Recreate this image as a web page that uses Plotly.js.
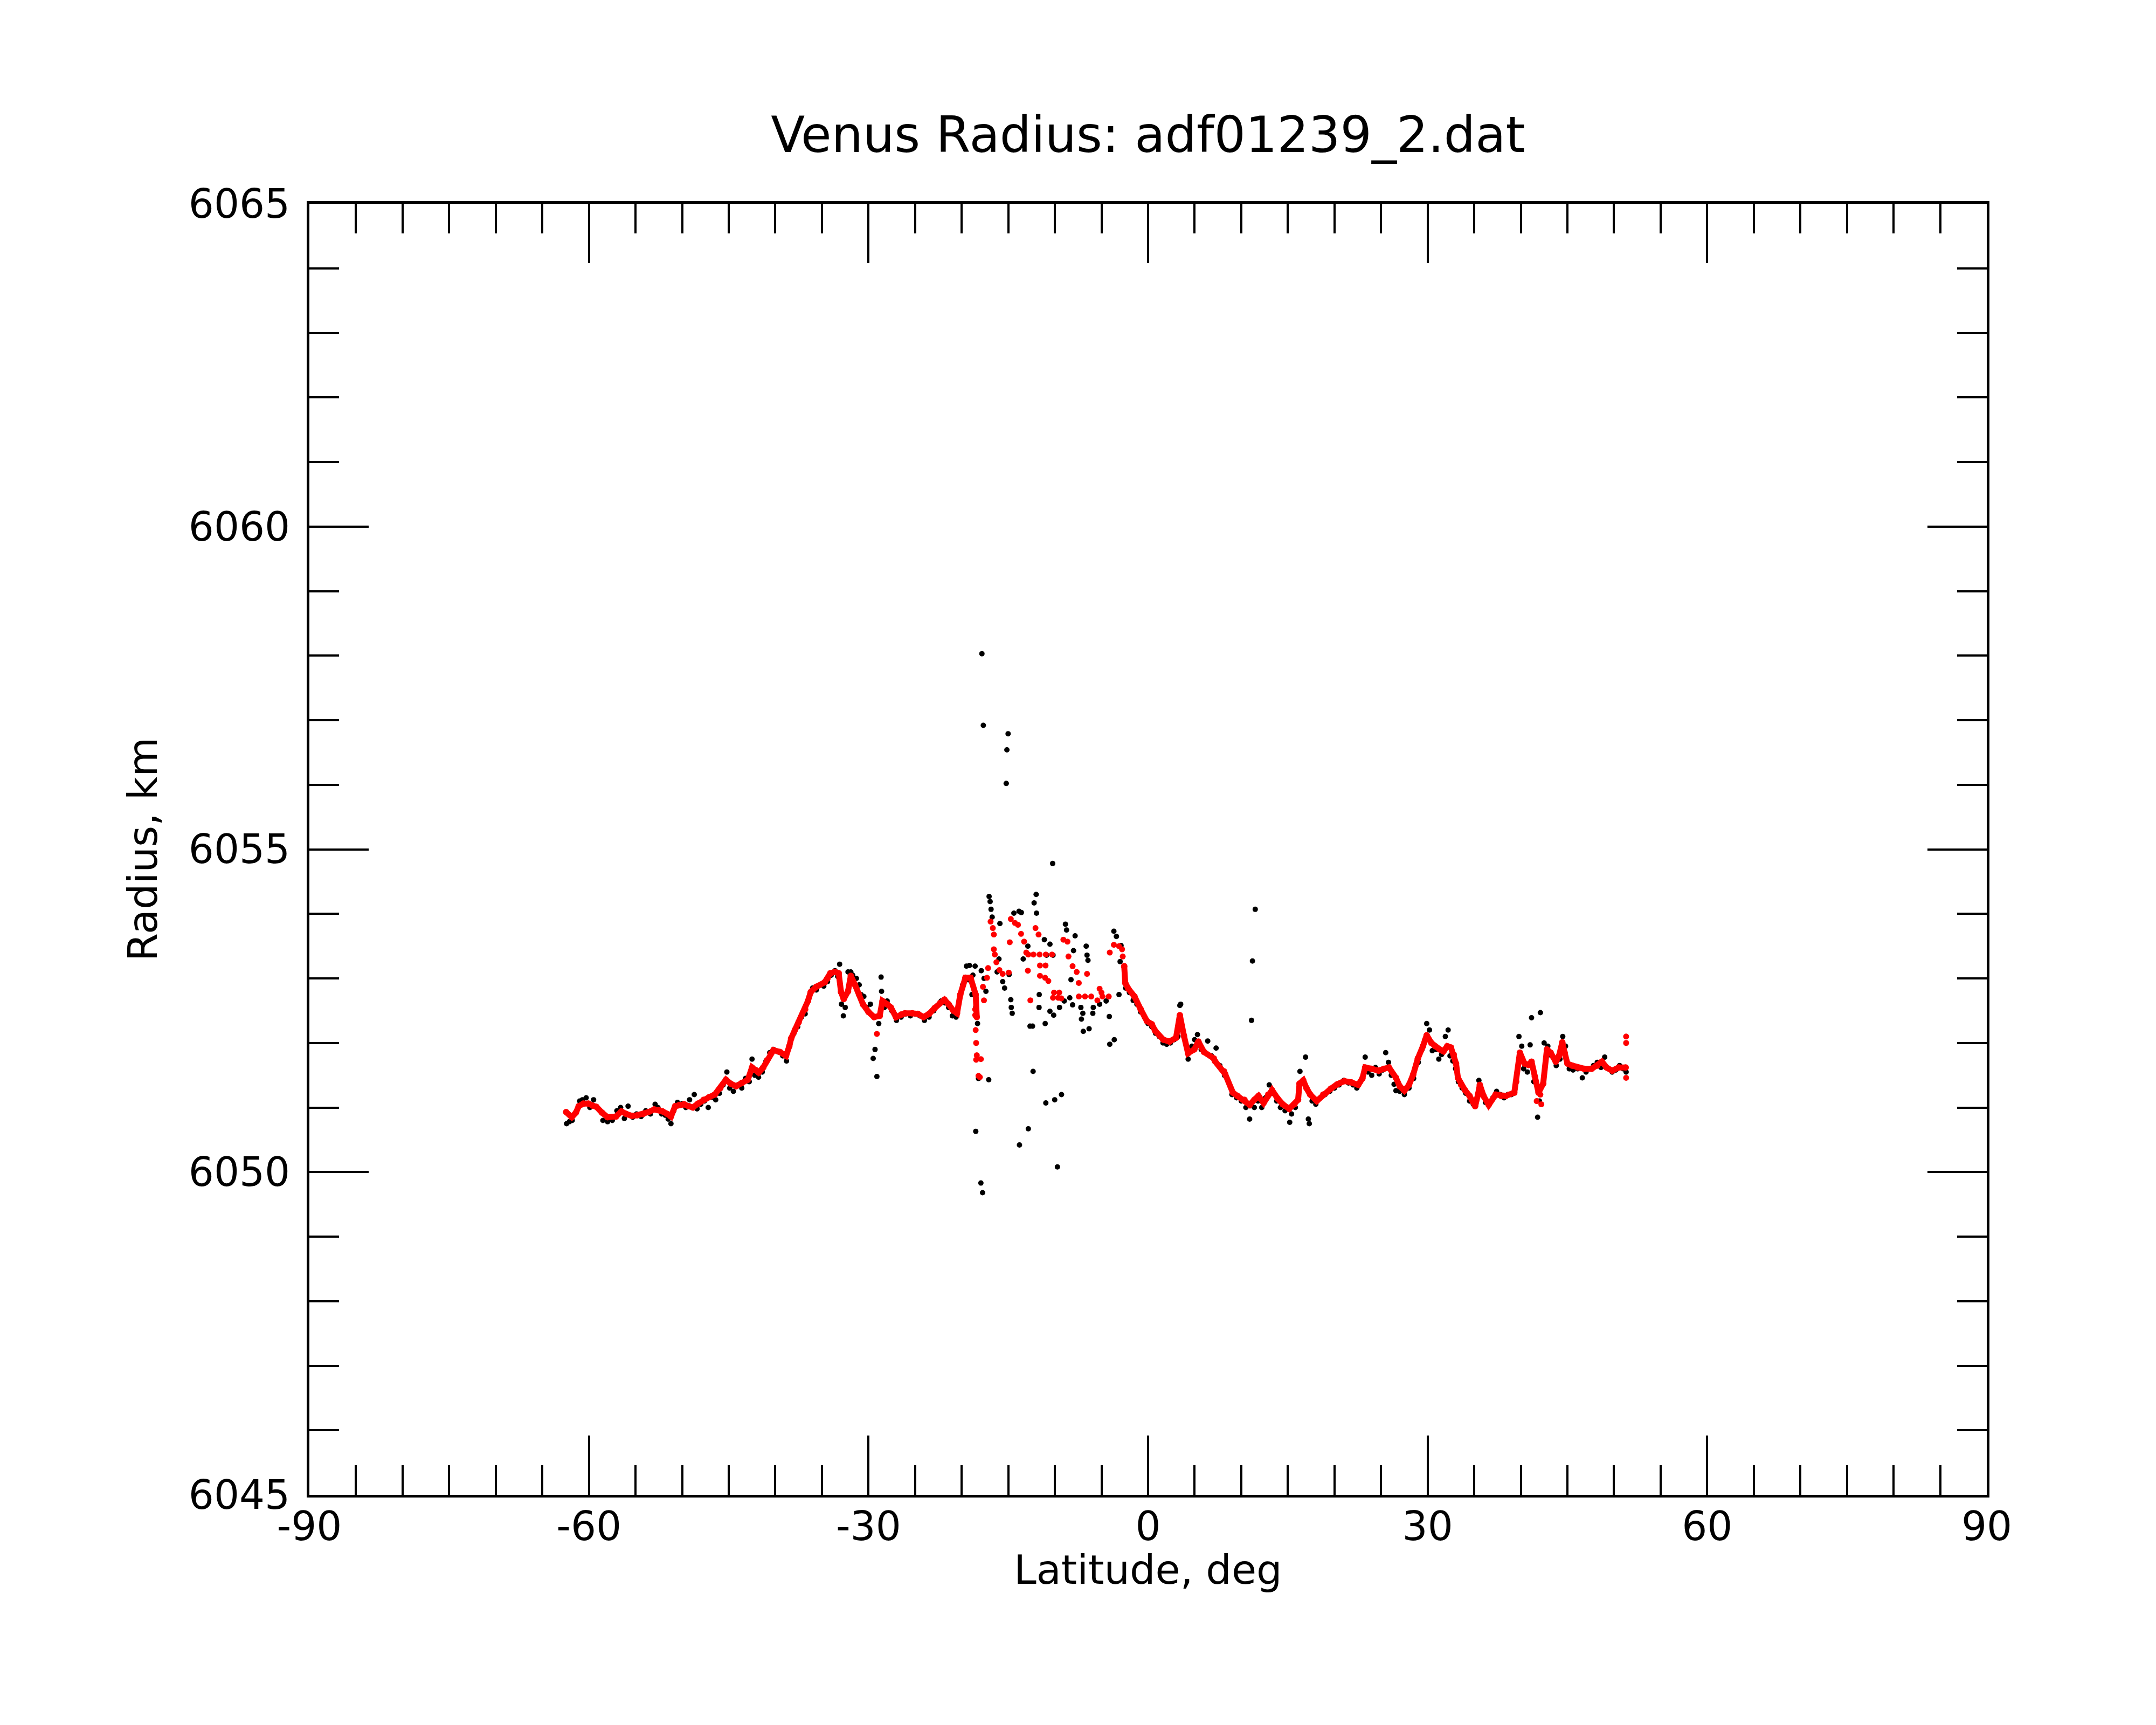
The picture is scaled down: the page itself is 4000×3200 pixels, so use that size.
<!DOCTYPE html>
<html>
<head>
<meta charset="utf-8">
<script src="https://cdn.plot.ly/plotly-3.0.1.min.js"></script>
<style>
  html, body { margin: 0; padding: 0; background: #fff; }
  #chart { width: 4000px; height: 3200px; }
</style>
</head>
<body>
<div id="chart"></div>
<script>
/* Venus radius profile vs latitude: raw samples (black) and smoothed fit (red). */

// Axis ticks; labels typed out so negatives use a plain hyphen like the original.
const latTicks = [-90, -60, -30, 0, 30, 60, 90];
const latTickText = ["-90", "-60", "-30", "0", "30", "60", "90"];
const radTicks = [6045, 6050, 6055, 6060, 6065];
const radTickText = ["6045", "6050", "6055", "6060", "6065"];

// Raw radius samples [latitude deg, radius km].
const rawSouth = [
  [-62.4, 6050.75], [-62.1, 6050.78], [-61.8, 6050.8], [-61.5, 6050.9], [-61.0, 6051.1],
  [-60.7, 6051.12], [-60.3, 6051.15], [-59.9, 6051.0], [-59.5, 6051.12], [-59.0, 6050.98],
  [-58.5, 6050.8], [-58.0, 6050.78], [-57.5, 6050.8], [-57.0, 6050.95], [-56.6, 6051.0],
  [-56.2, 6050.83], [-55.8, 6051.02], [-55.3, 6050.85], [-54.9, 6050.9], [-54.4, 6050.86],
  [-53.9, 6050.95], [-53.4, 6050.9], [-52.9, 6051.05], [-52.6, 6051.0], [-52.2, 6050.9],
  [-51.8, 6050.88], [-51.5, 6050.82], [-51.2, 6050.75], [-50.9, 6050.95], [-50.5, 6051.08],
  [-50.0, 6051.06], [-49.6, 6051.0], [-49.2, 6051.12], [-48.7, 6051.2], [-48.4, 6050.98],
  [-48.0, 6051.05], [-47.6, 6051.1], [-47.2, 6051.0], [-46.8, 6051.16], [-46.4, 6051.12],
  [-46.0, 6051.22], [-45.6, 6051.35], [-45.2, 6051.55], [-44.9, 6051.3], [-44.5, 6051.25],
  [-44.0, 6051.35], [-43.6, 6051.3], [-43.2, 6051.45], [-42.8, 6051.4], [-42.5, 6051.75],
  [-42.2, 6051.5], [-41.8, 6051.47], [-41.4, 6051.55], [-41.0, 6051.72], [-40.6, 6051.85],
  [-40.2, 6051.9], [-39.7, 6051.86], [-39.2, 6051.8], [-38.8, 6051.72], [-38.4, 6052.0],
  [-38.0, 6052.15], [-37.6, 6052.25], [-37.2, 6052.4], [-36.8, 6052.45], [-36.4, 6052.7],
  [-36.0, 6052.85], [-35.6, 6052.82], [-35.2, 6052.9], [-34.8, 6052.88], [-34.4, 6052.95],
  [-34.0, 6053.05], [-33.6, 6053.12], [-33.3, 6053.03], [-33.1, 6053.22], [-32.9, 6052.6],
  [-32.7, 6052.42], [-32.5, 6052.55], [-32.2, 6053.1], [-31.9, 6053.1], [-31.7, 6053.05],
  [-31.3, 6053.0], [-31.0, 6052.9], [-30.8, 6052.75], [-30.5, 6052.72], [-30.2, 6052.55],
  [-29.8, 6052.6], [-29.5, 6051.76], [-29.3, 6051.9], [-29.1, 6051.48], [-28.9, 6052.3],
  [-28.65, 6053.02], [-28.6, 6052.8], [-28.3, 6052.55], [-28.0, 6052.65], [-27.5, 6052.5],
  [-27.0, 6052.35], [-26.5, 6052.4], [-26.0, 6052.45], [-25.5, 6052.42], [-25.0, 6052.45],
  [-24.5, 6052.42], [-24.0, 6052.35], [-23.5, 6052.4], [-23.0, 6052.5], [-22.6, 6052.58],
  [-22.2, 6052.65], [-21.8, 6052.62], [-21.4, 6052.55], [-21.0, 6052.42], [-20.6, 6052.4]
];

const rawMiddle = [
  [-20.2, 6052.72], [-19.9, 6052.9], [-19.49, 6053.19], [-19.16, 6053.2], [-18.56, 6053.19],
  [-19.3, 6052.98], [-18.8, 6053.05], [-18.9, 6052.75], [-18.5, 6052.55], [-18.3, 6052.3],
  [-17.9, 6053.12], [-17.6, 6053.0], [-17.4, 6052.8], [-17.06, 6054.27], [-16.95, 6054.19],
  [-16.85, 6054.07], [-16.73, 6053.95], [-12.01, 6054.3], [-12.23, 6054.17], [-11.97, 6054.01],
  [-14.4, 6054.01], [-13.85, 6054.04], [-13.6, 6054.02], [-14.91, 6053.06], [-15.4, 6052.85],
  [-14.73, 6052.67], [-14.68, 6052.55], [-14.58, 6052.46], [-12.67, 6052.26], [-12.4, 6052.26],
  [-11.68, 6052.75], [-11.7, 6052.55], [-11.04, 6052.3], [-10.53, 6052.49], [-10.13, 6052.43],
  [-11.13, 6053.6], [-10.53, 6053.53], [-10.9, 6053.36], [-10.2, 6053.36], [-8.87, 6053.84],
  [-8.75, 6053.75], [-7.83, 6053.66], [-8.0, 6053.43], [-6.64, 6053.5], [-6.55, 6053.36],
  [-6.45, 6053.28], [-8.27, 6052.98], [-8.1, 6052.59], [-7.21, 6052.55], [-7.0, 6052.46],
  [-7.15, 6052.37], [-6.95, 6052.18], [-6.33, 6052.22], [-5.93, 6052.46], [-5.88, 6052.55],
  [-4.16, 6052.41], [-4.11, 6051.98], [-3.63, 6052.05], [-3.12, 6052.75], [-3.67, 6053.73],
  [-3.4, 6053.65], [-2.9, 6053.51], [-3.0, 6053.26], [-16.2, 6053.1], [-15.6, 6052.95],
  [-13.4, 6053.3], [-12.9, 6053.5], [-9.5, 6052.55], [-9.0, 6052.65], [-8.4, 6052.7],
  [-5.2, 6052.6], [-4.5, 6052.65], [-16.0, 6053.3], [-15.9, 6053.85]
];

// Isolated raw samples far from the profile.
const rawOutliers = [
  [-17.83, 6058.03], [-17.68, 6056.92], [-15.02, 6056.79], [-15.15, 6056.54], [-15.22, 6056.02],
  [-10.24, 6054.78], [-18.49, 6050.63], [-17.94, 6049.83], [-17.76, 6049.68], [-17.1, 6051.43],
  [-18.2, 6051.45], [-12.85, 6050.67], [-13.8, 6050.42], [-12.34, 6051.56], [-10.97, 6051.07],
  [-10.02, 6051.12], [-9.29, 6051.2], [-9.73, 6050.08], [11.1, 6052.35], [11.2, 6053.27],
  [11.5, 6054.07]
];

const rawNorth = [
  [-2.4, 6052.85], [-2.0, 6052.78], [-1.6, 6052.66], [-1.2, 6052.6], [-0.8, 6052.48],
  [-0.4, 6052.4], [0.0, 6052.3], [0.4, 6052.25], [0.8, 6052.15], [1.2, 6052.1],
  [1.6, 6052.0], [2.0, 6051.98], [2.4, 6052.0], [2.8, 6052.05], [3.2, 6052.1],
  [3.41, 6052.58], [3.5, 6052.6], [3.9, 6052.08], [4.3, 6051.75], [4.7, 6051.95],
  [5.0, 6052.05], [5.3, 6052.13], [5.7, 6051.9], [6.4, 6052.03], [6.8, 6051.8],
  [7.3, 6051.92], [7.7, 6051.65], [8.2, 6051.5], [8.6, 6051.4], [9.0, 6051.2],
  [9.5, 6051.15], [10.0, 6051.1], [10.5, 6051.0], [10.9, 6050.82], [11.4, 6051.0],
  [11.8, 6051.1], [12.2, 6051.0], [12.6, 6051.15], [13.0, 6051.35], [13.4, 6051.22],
  [13.8, 6051.1], [14.2, 6051.0], [14.7, 6050.95], [15.2, 6050.77], [15.4, 6050.9],
  [15.8, 6051.0], [16.3, 6051.56], [16.9, 6051.78], [17.3, 6050.75], [17.2, 6050.82],
  [17.6, 6051.1], [18.0, 6051.05], [18.5, 6051.15], [19.0, 6051.2], [19.5, 6051.25],
  [20.0, 6051.3], [20.5, 6051.35], [21.0, 6051.42], [21.5, 6051.38], [22.0, 6051.35],
  [22.4, 6051.3], [22.8, 6051.4], [23.3, 6051.78], [23.6, 6051.55], [24.0, 6051.5],
  [24.4, 6051.62], [24.8, 6051.52], [25.2, 6051.58], [25.5, 6051.85], [25.8, 6051.7],
  [26.1, 6051.5], [26.4, 6051.36], [26.6, 6051.26], [27.0, 6051.25], [27.5, 6051.2],
  [28.0, 6051.3], [28.5, 6051.45], [29.0, 6051.7], [29.4, 6051.9], [29.7, 6052.05],
  [29.9, 6052.3], [30.2, 6052.2], [30.5, 6051.88], [30.9, 6051.9], [31.2, 6051.75],
  [31.5, 6051.82], [31.9, 6052.1], [32.2, 6052.2], [32.4, 6051.8], [32.7, 6051.72],
  [33.0, 6051.6], [33.3, 6051.4], [33.7, 6051.3], [34.1, 6051.22], [34.5, 6051.1],
  [34.9, 6051.05], [35.2, 6051.1], [35.5, 6051.42], [35.8, 6051.25], [36.2, 6051.08],
  [36.6, 6051.05], [37.0, 6051.15], [37.4, 6051.25], [37.8, 6051.2], [38.2, 6051.15],
  [38.6, 6051.2], [39.0, 6051.2], [39.4, 6051.3], [39.8, 6052.1], [40.1, 6051.95],
  [40.3, 6051.6], [40.7, 6051.55], [41.0, 6051.97], [41.15, 6052.39], [41.4, 6051.4],
  [41.7, 6051.1], [41.8, 6050.85], [42.0, 6051.1], [42.1, 6052.47], [42.5, 6052.0],
  [42.9, 6051.95], [43.3, 6051.8], [43.8, 6051.65], [44.2, 6051.75], [44.5, 6052.1],
  [44.8, 6051.95], [45.2, 6051.6], [45.6, 6051.58], [46.1, 6051.6], [46.6, 6051.46],
  [47.0, 6051.55], [47.4, 6051.6], [47.8, 6051.65], [48.2, 6051.7], [48.6, 6051.62],
  [49.0, 6051.78], [49.4, 6051.6], [49.8, 6051.55], [50.2, 6051.58], [50.6, 6051.65],
  [51.0, 6051.6], [51.3, 6051.55]
];

// Smoothed profile (red), continuous stretches.
const smoothSouth = [
  [-62.45, 6050.93], [-61.85, 6050.85], [-61.4, 6050.92], [-61.1, 6051.02], [-60.6, 6051.06],
  [-60.06, 6051.06], [-59.6, 6051.03], [-59.2, 6051.01], [-58.6, 6050.92], [-58.0, 6050.85],
  [-57.1, 6050.86], [-56.53, 6050.94], [-56.0, 6050.9], [-55.4, 6050.87], [-54.8, 6050.88],
  [-54.2, 6050.9], [-53.6, 6050.93], [-53.0, 6050.97], [-52.5, 6050.96], [-52.1, 6050.94],
  [-51.6, 6050.9], [-51.2, 6050.86], [-50.75, 6051.02], [-50.3, 6051.04], [-49.8, 6051.05],
  [-49.3, 6051.02], [-48.85, 6051.0], [-48.3, 6051.06], [-47.7, 6051.12], [-47.1, 6051.16],
  [-46.5, 6051.2], [-45.9, 6051.3], [-45.3, 6051.43], [-44.8, 6051.37], [-44.2, 6051.33],
  [-43.6, 6051.38], [-42.95, 6051.43], [-42.5, 6051.62], [-42.1, 6051.58], [-41.8, 6051.54],
  [-41.3, 6051.62], [-40.9, 6051.73], [-40.5, 6051.83], [-40.2, 6051.89], [-39.5, 6051.86],
  [-38.85, 6051.8], [-38.5, 6051.95], [-38.3, 6052.07], [-37.9, 6052.2], [-37.5, 6052.32],
  [-36.8, 6052.52], [-36.5, 6052.65], [-36.2, 6052.79], [-35.6, 6052.87], [-34.7, 6052.94],
  [-34.4, 6053.0], [-34.1, 6053.08], [-33.6, 6053.1], [-33.2, 6053.08], [-32.95, 6052.79],
  [-32.66, 6052.68], [-32.2, 6052.8], [-31.9, 6053.04], [-31.45, 6052.9], [-31.0, 6052.75],
  [-30.6, 6052.6], [-30.0, 6052.48], [-29.4, 6052.4], [-28.8, 6052.42], [-28.5, 6052.65],
  [-28.0, 6052.6], [-27.6, 6052.55], [-27.05, 6052.4], [-26.5, 6052.44], [-26.1, 6052.46],
  [-25.3, 6052.46], [-24.7, 6052.45], [-24.1, 6052.4], [-23.5, 6052.45], [-22.9, 6052.54],
  [-22.3, 6052.62], [-21.85, 6052.67], [-21.4, 6052.6], [-20.9, 6052.5], [-20.5, 6052.46],
  [-20.15, 6052.75], [-19.6, 6053.01], [-19.05, 6053.01], [-18.5, 6052.75], [-18.38, 6052.4]
];

const smoothNorth = [
  [-2.56, 6053.19], [-2.45, 6052.93], [-2.12, 6052.84], [-1.46, 6052.72], [-0.79, 6052.52],
  [-0.13, 6052.34], [0.4, 6052.29], [0.75, 6052.19], [1.64, 6052.05], [2.3, 6052.02],
  [3.0, 6052.08], [3.41, 6052.43], [3.85, 6052.11], [4.29, 6051.84], [4.96, 6051.9],
  [5.4, 6052.02], [6.0, 6051.86], [7.05, 6051.76], [7.17, 6051.72], [8.15, 6051.56],
  [8.27, 6051.52], [9.1, 6051.23], [9.6, 6051.18], [10.35, 6051.12], [10.9, 6051.04],
  [11.4, 6051.12], [11.85, 6051.18], [12.4, 6051.07], [12.9, 6051.2], [13.3, 6051.27],
  [13.9, 6051.14], [14.45, 6051.05], [15.15, 6050.98], [15.7, 6051.05], [16.1, 6051.12],
  [16.25, 6051.37], [16.65, 6051.42], [17.0, 6051.3], [17.4, 6051.2], [18.1, 6051.1],
  [18.8, 6051.2], [19.6, 6051.29], [20.3, 6051.36], [21.05, 6051.41], [21.8, 6051.39],
  [22.55, 6051.35], [23.0, 6051.45], [23.3, 6051.62], [24.0, 6051.6], [24.75, 6051.57],
  [25.3, 6051.6], [25.85, 6051.62], [26.6, 6051.46], [27.0, 6051.33], [27.5, 6051.26],
  [28.0, 6051.35], [28.45, 6051.51], [28.95, 6051.76], [29.5, 6051.95], [29.9, 6052.12],
  [30.4, 6052.0], [30.8, 6051.95], [31.3, 6051.9], [31.7, 6051.87], [32.1, 6051.95],
  [32.5, 6051.93], [32.8, 6051.82], [33.05, 6051.68], [33.25, 6051.46], [33.6, 6051.35],
  [34.0, 6051.27], [34.5, 6051.18], [35.1, 6051.02], [35.4, 6051.2], [35.6, 6051.35],
  [36.0, 6051.18], [36.55, 6051.04], [37.3, 6051.2], [37.9, 6051.18], [38.4, 6051.18],
  [39.3, 6051.23], [39.5, 6051.4], [39.9, 6051.85], [40.4, 6051.68], [40.8, 6051.66],
  [41.15, 6051.71], [41.5, 6051.48], [41.9, 6051.23], [42.4, 6051.37], [42.8, 6051.9],
  [43.2, 6051.85], [43.75, 6051.71], [44.1, 6051.8], [44.45, 6052.01], [44.7, 6051.85],
  [45.0, 6051.68], [45.5, 6051.65], [46.1, 6051.62], [46.8, 6051.6], [47.6, 6051.6],
  [48.2, 6051.65], [48.7, 6051.71], [49.2, 6051.62], [49.8, 6051.57], [50.5, 6051.62],
  [51.25, 6051.62]
];

// Smoothed values where the fit breaks up into separate dots.
const smoothDots = [
  [-29.1, 6052.14], [-18.55, 6052.52], [-18.55, 6052.43], [-18.5, 6052.2], [-18.45, 6052.0],
  [-18.38, 6051.81], [-18.45, 6051.74], [-17.94, 6051.75], [-18.05, 6051.47], [-18.2, 6051.49],
  [-17.72, 6052.87], [-17.61, 6052.66], [-17.28, 6053.01], [-17.17, 6053.16], [-16.9, 6053.88],
  [-16.66, 6053.78], [-16.55, 6053.68], [-16.55, 6053.45], [-16.45, 6053.37], [-16.28, 6053.25],
  [-15.95, 6053.13], [-15.6, 6053.07], [-14.95, 6053.09], [-14.84, 6053.56], [-14.73, 6053.92],
  [-14.29, 6053.86], [-13.96, 6053.83], [-13.63, 6053.69], [-13.3, 6053.57], [-13.07, 6053.4],
  [-12.85, 6053.37], [-12.3, 6053.37], [-11.64, 6053.37], [-10.97, 6053.37], [-10.31, 6053.37],
  [-12.08, 6053.78], [-11.75, 6053.68], [-12.9, 6053.12], [-11.6, 6053.2], [-11.0, 6053.2],
  [-12.63, 6052.66], [-11.6, 6053.04], [-11.05, 6053.01], [-10.7, 6052.96], [-10.09, 6052.78],
  [-9.53, 6052.78], [-9.31, 6052.69], [-10.2, 6052.7], [-9.65, 6052.7], [-9.09, 6053.6],
  [-8.65, 6053.57], [-8.54, 6053.34], [-8.1, 6053.19], [-7.66, 6053.1], [-7.43, 6052.93],
  [-6.55, 6053.07], [-7.43, 6052.72], [-6.77, 6052.72], [-6.1, 6052.72], [-5.44, 6052.66],
  [-4.89, 6052.72], [-4.22, 6052.72], [-5.2, 6052.84], [-5.0, 6052.78], [-4.11, 6053.4],
  [-3.67, 6053.52], [-3.12, 6053.5], [-2.79, 6053.45], [-2.72, 6053.34], [41.7, 6051.1],
  [42.1, 6051.2], [42.2, 6051.05], [51.3, 6052.1], [51.3, 6052.0], [51.3, 6051.46]
];

const lat = (pts) => pts.map((p) => p[0]);
const rad = (pts) => pts.map((p) => p[1]);

const FONT = "DejaVu Sans, Liberation Sans, sans-serif";
const rawAll = [...rawSouth, ...rawMiddle, ...rawNorth, ...rawOutliers];
// a null row keeps the two smooth stretches from being joined
const smoothLine = [...smoothSouth, [null, null], ...smoothNorth];

const traces = [
  {
    x: lat(rawAll), y: rad(rawAll),
    type: "scatter", mode: "markers",
    marker: { color: "#000000", size: 10 },
    hoverinfo: "skip",
  },
  {
    x: lat(smoothLine), y: rad(smoothLine),
    type: "scatter", mode: "lines+markers",
    line: { color: "#ff0000", width: 11 },
    marker: { color: "#ff0000", size: 12 },
    connectgaps: false,
    hoverinfo: "skip",
  },
  {
    x: lat(smoothDots), y: rad(smoothDots),
    type: "scatter", mode: "markers",
    marker: { color: "#ff0000", size: 11 },
    hoverinfo: "skip",
  },
];

function axis(range, vals, text, minorDtick, labelGap) {
  return {
    range, tickmode: "array", tickvals: vals, ticktext: text,
    ticks: "inside", ticklen: 110, tickwidth: 4, tickcolor: "#000",
    minor: { ticks: "inside", dtick: minorDtick, ticklen: 55, tickwidth: 4, tickcolor: "#000" },
    showline: true, linewidth: 5, linecolor: "#000", mirror: "ticks",
    showgrid: false, zeroline: false,
    ticklabelstandoff: labelGap,
    tickfont: { family: FONT, size: 74, color: "#000" },
  };
}

const TITLE_FONT = { family: FONT, size: 75, color: "#000" };

const layout = {
  width: 4000, height: 3200,
  margin: { l: 574, r: 314, t: 378, b: 427, pad: 0 },
  paper_bgcolor: "#ffffff", plot_bgcolor: "#ffffff",
  showlegend: false,
  title: {
    text: "Venus Radius: adf01239_2.dat",
    font: { family: FONT, size: 92, color: "#000" },
    x: 0.5, xref: "paper", y: 1 - 250 / 3200, yref: "container", yanchor: "middle",
  },
  xaxis: axis([-90, 90], latTicks, latTickText, 5, -10),
  yaxis: Object.assign(axis([6045, 6065], radTicks, radTickText, 1, 16), {
    title: { text: "Radius, km", font: TITLE_FONT, standoff: 35 },
  }),
  // x title placed by hand: the axis title sits too low under the tick labels
  annotations: [{
    text: "Latitude, deg", font: TITLE_FONT, showarrow: false,
    xref: "paper", x: 0.5, yref: "paper", y: -0.058, yanchor: "middle",
  }],
};

Plotly.newPlot("chart", traces, layout, { staticPlot: true, displayModeBar: false });
</script>
</body>
</html>
